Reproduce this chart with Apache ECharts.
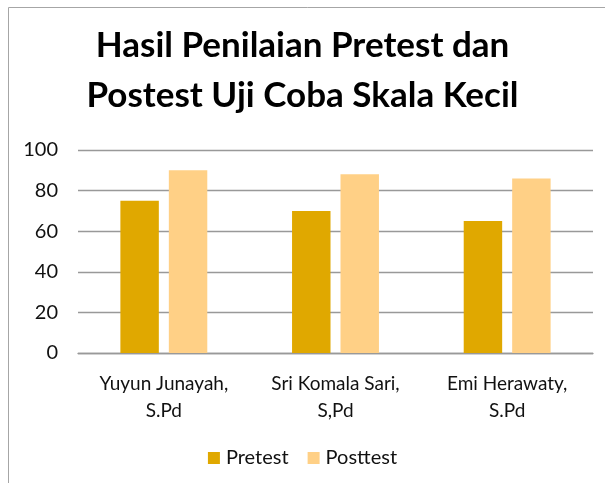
<!DOCTYPE html>
<html>
<head>
<meta charset="utf-8">
<script src="https://cdn.jsdelivr.net/npm/echarts@6/dist/echarts.min.js"></script>
<style>html,body{margin:0;padding:0;background:#fff}#c{width:605px;height:483px}</style>
</head>
<body>
<div id="c"></div>
<script>
const categories = ['Yuyun Junayah,\nS.Pd', 'Sri Komala Sari,\nS,Pd', 'Emi Herawaty,\nS.Pd'];
const pretest = [75, 70, 65];
const posttest = [90, 88, 86];
const yTicks = { min: 0, max: 100, interval: 20 };
const titleText = 'Hasil Penilaian Pretest dan\nPostest Uji Coba Skala Kecil';

const FONT = 'Lato';
const chart = echarts.init(document.getElementById('c'), null, { renderer: 'canvas' });
chart.setOption({
  animation: false,
  backgroundColor: '#fff',
  graphic: [{
    type: 'rect', silent: true,
    shape: { x: 8.5, y: 7.5, width: 700, height: 600 },
    style: { fill: 'none', stroke: '#a6a6a6', lineWidth: 1 }
  }],
  title: {
    text: titleText, left: 'center', top: 16,
    textStyle: { fontFamily: FONT, fontWeight: 'bold', fontSize: 35, lineHeight: 50, color: '#000' }
  },
  legend: {
    bottom: 10, left: 'center', itemWidth: 12, itemHeight: 12, itemGap: 19,
    icon: 'rect',
    textStyle: { fontFamily: FONT, fontSize: 20, color: '#111', padding: [0, 0, 0, 1] },
    data: ['Pretest', 'Posttest']
  },
  grid: { left: 78, right: 12, top: 150, bottom: 130 },
  xAxis: {
    type: 'category', data: categories,
    axisTick: { show: false },
    axisLine: { lineStyle: { color: '#999', width: 1.3 } },
    axisLabel: { interval: 0, fontFamily: FONT, fontSize: 19, color: '#111', lineHeight: 27, margin: 17 }
  },
  yAxis: {
    type: 'value', min: yTicks.min, max: yTicks.max, interval: yTicks.interval,
    axisLine: { show: false }, axisTick: { show: false },
    axisLabel: { fontFamily: FONT, fontSize: 20, color: '#111', margin: 20 },
    splitLine: { lineStyle: { color: '#999', width: 1.3 } }
  },
  series: [
    { name: 'Pretest', type: 'bar', data: pretest, barWidth: '22.4%', barGap: '26%',
      itemStyle: { color: '#E0A800' } },
    { name: 'Posttest', type: 'bar', data: posttest, barWidth: '22.4%',
      itemStyle: { color: '#FFD086' } }
  ]
});
</script>
</body>
</html>
